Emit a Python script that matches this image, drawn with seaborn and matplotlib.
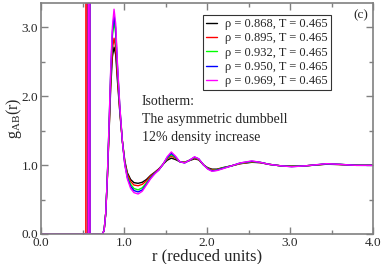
import numpy as np
import pandas as pd
import matplotlib
matplotlib.use("Agg")
import matplotlib.pyplot as plt
import seaborn as sns
from matplotlib.ticker import MultipleLocator

r = [0.00, 0.54, 0.55, 0.56, 0.57, 0.58, 0.59, 0.74, 0.76, 0.78, 0.80, 0.82, 0.84,
     0.86, 0.88, 0.90, 0.92, 0.95, 0.98, 1.01, 1.04, 1.08, 1.12, 1.17, 1.22, 1.27,
     1.32, 1.37, 1.42, 1.47, 1.52, 1.57, 1.62, 1.67, 1.73, 1.79, 1.85, 1.90, 1.96,
     2.01, 2.06, 2.12, 2.20, 2.30, 2.40, 2.54, 2.64, 2.75, 2.88, 3.02, 3.20, 3.44,
     3.60, 3.80, 4.00]

g_0868 = [0, 0, 0, 0, 0, 40, 0, 0, 0.05, 0.3, 0.82, 1.47, 2.12,
          2.57, 2.71, 2.6, 2.24, 1.76, 1.35, 1.06, 0.89, 0.79, 0.745, 0.735, 0.75, 0.79,
          0.85, 0.895, 0.945, 1.01, 1.07, 1.10, 1.08, 1.05, 1.04, 1.065, 1.09, 1.075, 1.0,
          0.96, 0.94, 0.94, 0.965, 0.99, 1.02, 1.04, 1.035, 1.01, 0.99, 0.985, 0.99, 1.012,
          1.007, 0.998, 0.997]
g_0895 = [0, 0, 40, 0, 0, 0, 0, 0, 0.05, 0.3, 0.83, 1.5, 2.2,
          2.68, 2.84, 2.7, 2.3, 1.78, 1.35, 1.04, 0.87, 0.76, 0.71, 0.70, 0.72, 0.77,
          0.84, 0.89, 0.94, 1.01, 1.09, 1.13, 1.1, 1.05, 1.04, 1.07, 1.10, 1.08, 1.0,
          0.955, 0.93, 0.935, 0.96, 0.99, 1.02, 1.045, 1.035, 1.01, 0.99, 0.982, 0.99, 1.014,
          1.008, 0.997, 0.996]
g_0932 = [0, 0, 0, 0, 0, 40, 0, 0, 0.05, 0.3, 0.85, 1.55, 2.3,
          2.86, 3.08, 2.9, 2.42, 1.82, 1.35, 1.02, 0.84, 0.72, 0.66, 0.64, 0.67, 0.74,
          0.82, 0.88, 0.93, 1.01, 1.1, 1.15, 1.11, 1.05, 1.035, 1.07, 1.11, 1.085, 1.0,
          0.95, 0.92, 0.93, 0.96, 0.99, 1.025, 1.05, 1.04, 1.01, 0.99, 0.98, 0.99, 1.016,
          1.01, 0.997, 0.996]
g_0950 = [0, 0, 0, 0, 0, 40, 0, 0, 0.05, 0.3, 0.85, 1.58, 2.35,
          2.93, 3.17, 2.98, 2.46, 1.83, 1.35, 1.01, 0.82, 0.69, 0.63, 0.61, 0.64, 0.72,
          0.81, 0.88, 0.93, 1.01, 1.11, 1.17, 1.12, 1.05, 1.03, 1.07, 1.115, 1.09, 1.0,
          0.945, 0.915, 0.925, 0.955, 0.99, 1.03, 1.055, 1.04, 1.01, 0.99, 0.977, 0.99, 1.018,
          1.01, 0.996, 0.995]
g_0969 = [0, 0, 0, 0, 0, 40, 0, 0, 0.05, 0.3, 0.85, 1.6, 2.4,
          3.0, 3.26, 3.05, 2.5, 1.85, 1.35, 1.0, 0.8, 0.66, 0.6, 0.58, 0.62, 0.71,
          0.8, 0.87, 0.93, 1.01, 1.12, 1.19, 1.13, 1.05, 1.03, 1.07, 1.12, 1.09, 1.0,
          0.94, 0.91, 0.92, 0.95, 0.99, 1.03, 1.06, 1.04, 1.01, 0.99, 0.975, 0.99, 1.02,
          1.01, 0.995, 0.995]

labels = ["\u03c1 = 0.868, T = 0.465", "\u03c1 = 0.895, T = 0.465",
          "\u03c1 = 0.932, T = 0.465", "\u03c1 = 0.950, T = 0.465",
          "\u03c1 = 0.969, T = 0.465"]
series = [g_0868, g_0895, g_0932, g_0950, g_0969]
colors = ["#000000", "#ff0000", "#00ff00", "#0000ff", "#ff00ff"]

rows = []
for lab, g in zip(labels, series):
    for x, y in zip(r, g):
        rows.append({"r": x, "g": y, "label": lab})
df = pd.DataFrame(rows)

sns.set_style("ticks")
plt.rcParams["font.family"] = ["Liberation Serif", "DejaVu Serif"]
plt.rcParams["mathtext.fontset"] = "custom"
plt.rcParams["mathtext.rm"] = "Liberation Serif"
plt.rcParams["mathtext.it"] = "Liberation Serif:italic"

fig = plt.figure(figsize=(3.82, 2.64), dpi=100)
ax = fig.add_axes([41/382, 30/264, 332/382, 231/264])

sns.lineplot(data=df, x="r", y="g", hue="label", hue_order=labels,
             palette=colors, sort=False, estimator=None, linewidth=1.0, ax=ax)

ax.set_xlim(0, 4)
ax.set_ylim(0, 3.35)
ax.xaxis.set_major_locator(MultipleLocator(1.0))
ax.xaxis.set_minor_locator(MultipleLocator(0.5))
ax.yaxis.set_major_locator(MultipleLocator(1.0))
ax.yaxis.set_minor_locator(MultipleLocator(0.5))
ax.xaxis.set_major_formatter(matplotlib.ticker.FormatStrFormatter("%.1f"))
ax.yaxis.set_major_formatter(matplotlib.ticker.FormatStrFormatter("%.1f"))
ax.tick_params(which="both", direction="in", top=True, right=True,
               color="#808080", labelsize=9.5, pad=2)
ax.tick_params(which="major", length=5, width=1)
ax.tick_params(which="minor", length=3, width=1)
for s in ax.spines.values():
    s.set_color("#808080")
    s.set_linewidth(1.2)

ax.set_xlabel("r (reduced units)", fontsize=12, labelpad=0)
ax.set_ylabel(r"g$_{\rm AB}$(r)", fontsize=11.5, va="center")
ax.yaxis.set_label_coords(-27/332, 0.5)

handles, labs = ax.get_legend_handles_labels()
leg = ax.legend(handles, labs, loc="upper left", bbox_to_anchor=(162/332, 1 - 12/231),
                fontsize=9, frameon=True, fancybox=False, handlelength=0.9,
                handletextpad=0.6, borderpad=0.25, labelspacing=0.18,
                borderaxespad=0)
leg.get_frame().set_edgecolor("black")
leg.get_frame().set_linewidth(0.8)
for h in leg.get_lines():
    h.set_linewidth(1.0)

ax.text(312/332, 1 - 12/231, "(c)", transform=ax.transAxes, fontsize=9.5, ha="left", va="center")
ax.text(101/332, 1 - 98/231, "Isotherm:", transform=ax.transAxes, fontsize=10, va="center")
ax.text(101/332, 1 - 116/231, "The asymmetric dumbbell", transform=ax.transAxes, fontsize=10, va="center")
ax.text(101/332, 1 - 134/231, "12% density increase", transform=ax.transAxes, fontsize=10, va="center")

fig.savefig("out.png", dpi=100)
